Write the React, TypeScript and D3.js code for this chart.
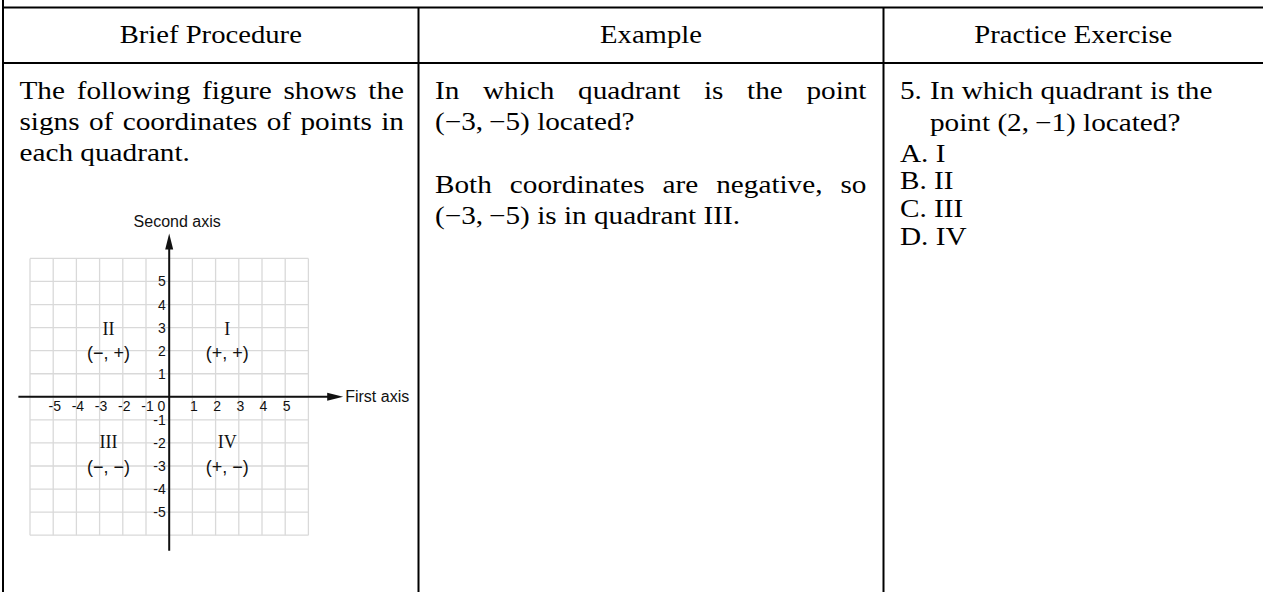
import React, { useLayoutEffect, useRef } from "react";
import * as d3 from "d3";

// ---------- data ----------
const HEADERS = ["Brief Procedure", "Example", "Practice Exercise"];
const PROCEDURE_LINES = [
  "The following figure shows the",
  "signs of coordinates of points in",
  "each quadrant.",
];
const EXAMPLE_QUESTION = ["In which quadrant is the point", "(\u22123,\u2009\u22125) located?"];
const EXAMPLE_ANSWER = ["Both coordinates are negative, so", "(\u22123,\u2009\u22125) is in quadrant III."];
const EXERCISE_NUMBER = "5.";
const EXERCISE_QUESTION = ["In which quadrant is the", "point (2,\u2009\u22121) located?"];
const CHOICES = ["A. I", "B. II", "C. III", "D. IV"];

const GRID_VALUES = [-6, -5, -4, -3, -2, -1, 0, 1, 2, 3, 4, 5, 6];
const X_TICKS = [-5, -4, -3, -2, -1, 1, 2, 3, 4, 5];
const Y_TICKS = [5, 4, 3, 2, 1, -1, -2, -3, -4, -5];
const ORIGIN_LABEL = "0";
const X_AXIS_TITLE = "First axis";
const Y_AXIS_TITLE = "Second axis";
const QUADRANT_NAMES = ["I", "II", "III", "IV"];
const QUADRANT_SIGNS = ["(+, +)", "(\u2212, +)", "(\u2212, \u2212)", "(+, \u2212)"];
const QUADRANT_X = [2.5, -2.62, -2.62, 2.5];
const QUADRANT_NAME_Y = [2.68, 2.68, -2.22, -2.22];
const QUADRANT_SIGN_Y = [1.62, 1.62, -3.32, -3.32];

// ---------- styles ----------
const SERIF = "'Liberation Serif', 'Times New Roman', serif";
const SANS = "'Liberation Sans', Arial, Helvetica, sans-serif";
const FS = 25;
const SX = 1.17;

const W = 1263;
const H = 592;
const LEFT = 3;
const DIV1 = 418.5;
const DIV2 = 883.5;
const TOP = 7.5;
const HEAD = 63;

function TexLine({ x, y, text, width, anchor = "start", size = FS }: { x: number; y: number; text: string; width?: number; anchor?: string; size?: number }) {
  const ref = useRef<SVGTextElement>(null);
  useLayoutEffect(() => {
    const el = ref.current;
    if (!el || !width) return;
    el.style.wordSpacing = "0px";
    const natural = el.getComputedTextLength();
    const spaces = (text.match(/ /g) || []).length;
    if (spaces > 0) el.style.wordSpacing = `${(width / SX - natural) / spaces}px`;
  }, [text, width]);
  return (
    <g transform={`translate(${x},${y}) scale(${SX},1)`}>
      <text ref={ref} x={0} y={0} fontFamily={SERIF} fontSize={size} fill="#000" textAnchor={anchor as any}>
        {text}
      </text>
    </g>
  );
}

function Figure() {
  const xs = d3.scaleLinear().domain([-6, 6]).range([30, 308.4]);
  const ys = d3.scaleLinear().domain([-6, 6]).range([535.2, 258.4]);
  const x0 = xs(0);
  const y0 = ys(0);
  const xEnd = xs(7.5);
  const yTop = ys(7.08);
  const ah = 16;
  const aw = 4;
  const tickFs = 14;
  return (
    <g>
      {GRID_VALUES.map((v) => (
        <line key={"gv" + v} x1={xs(v)} x2={xs(v)} y1={ys(6)} y2={ys(-6)} stroke="#d9d9d9" strokeWidth={1.3} />
      ))}
      {GRID_VALUES.map((v) => (
        <line key={"gh" + v} x1={xs(-6)} x2={xs(6)} y1={ys(v)} y2={ys(v)} stroke="#d9d9d9" strokeWidth={1.3} />
      ))}
      {/* axes */}
      <line x1={xs(-6.5)} x2={xEnd - ah + 2} y1={y0} y2={y0} stroke="#111" strokeWidth={2} />
      <path d={`M${xEnd},${y0} L${xEnd - ah},${y0 - aw} L${xEnd - ah},${y0 + aw} Z`} fill="#111" />
      <line x1={x0} x2={x0} y1={ys(-6.67)} y2={yTop + ah - 2} stroke="#111" strokeWidth={2} />
      <path d={`M${x0},${yTop} L${x0 - aw},${yTop + ah} L${x0 + aw},${yTop + ah} Z`} fill="#111" />
      {/* tick labels */}
      {X_TICKS.map((v) => (
        <text key={"xt" + v} x={xs(v) + 1.5} y={y0 + 13.9} fontFamily={SANS} fontSize={tickFs} textAnchor="middle" fill="#111">
          {v}
        </text>
      ))}
      <text x={x0 - 4} y={y0 + 13.9} fontFamily={SANS} fontSize={tickFs} textAnchor="end" fill="#111">
        {ORIGIN_LABEL}
      </text>
      {Y_TICKS.map((v) => (
        <text key={"yt" + v} x={x0 - 3.5} y={ys(v) + 5} fontFamily={SANS} fontSize={tickFs} textAnchor="end" fill="#111">
          {v}
        </text>
      ))}
      {/* axis titles */}
      <text x={x0 + 8} y={yTop - 6.6} fontFamily={SANS} fontSize={16} textAnchor="middle" fill="#111">
        {Y_AXIS_TITLE}
      </text>
      <text x={xEnd + 2} y={y0 + 5} fontFamily={SANS} fontSize={16} textAnchor="start" fill="#111">
        {X_AXIS_TITLE}
      </text>
      {/* quadrant labels */}
      {QUADRANT_NAMES.map((q, i) => (
        <g key={"q" + q}>
          <text x={xs(QUADRANT_X[i])} y={ys(QUADRANT_NAME_Y[i])} fontFamily={SERIF} fontSize={18} textAnchor="middle" fill="#111">
            {q}
          </text>
          <text x={xs(QUADRANT_X[i])} y={ys(QUADRANT_SIGN_Y[i])} fontFamily={SANS} fontSize={18} textAnchor="middle" fill="#111">
            {QUADRANT_SIGNS[i]}
          </text>
        </g>
      ))}
    </g>
  );
}

export default function App() {
  const col1L = 19.5;
  const col1W = 404 - 19.5;
  const col2L = 435;
  const col2W = 866.5 - 435;
  return (
    <svg
      width={W}
      height={H}
      viewBox={`0 0 ${W} ${H}`}
      style={{ position: "absolute", left: 0, top: 0, display: "block", background: "#fff" }}
    >
      <rect x={0} y={0} width={W} height={H} fill="#fff" />
      {/* table rules */}
      <line x1={LEFT} x2={LEFT} y1={0} y2={H} stroke="#000" strokeWidth={2} />
      <line x1={DIV1} x2={DIV1} y1={TOP} y2={H} stroke="#000" strokeWidth={2} />
      <line x1={DIV2} x2={DIV2} y1={TOP} y2={H} stroke="#000" strokeWidth={2} />
      <line x1={LEFT - 1} x2={W} y1={TOP} y2={TOP} stroke="#000" strokeWidth={2} />
      <line x1={LEFT - 1} x2={W} y1={HEAD} y2={HEAD} stroke="#000" strokeWidth={2} />

      {/* headers */}
      <TexLine x={(LEFT + DIV1) / 2} y={43} text={HEADERS[0]} anchor="middle" size={24.5} />
      <TexLine x={(DIV1 + DIV2) / 2} y={43} text={HEADERS[1]} anchor="middle" size={24.5} />
      <TexLine x={(DIV2 + W) / 2} y={43} text={HEADERS[2]} anchor="middle" size={24.5} />

      {/* column 1 */}
      <TexLine x={col1L} y={99} text={PROCEDURE_LINES[0]} width={col1W} />
      <TexLine x={col1L} y={130} text={PROCEDURE_LINES[1]} width={col1W} />
      <TexLine x={col1L} y={161} text={PROCEDURE_LINES[2]} />
      <Figure />

      {/* column 2 */}
      <TexLine x={col2L} y={99} text={EXAMPLE_QUESTION[0]} width={col2W} />
      <TexLine x={col2L} y={130} text={EXAMPLE_QUESTION[1]} />
      <TexLine x={col2L} y={193} text={EXAMPLE_ANSWER[0]} width={col2W} />
      <TexLine x={col2L} y={224} text={EXAMPLE_ANSWER[1]} />

      {/* column 3 */}
      <TexLine x={900} y={99.3} text={EXERCISE_NUMBER} />
      <TexLine x={930} y={99.3} text={EXERCISE_QUESTION[0]} />
      <TexLine x={930} y={130.7} text={EXERCISE_QUESTION[1]} />
      {CHOICES.map((c, i) => (
        <TexLine key={c} x={900} y={[161.7, 189.3, 217.1, 245][i]} text={c} />
      ))}
    </svg>
  );
}
